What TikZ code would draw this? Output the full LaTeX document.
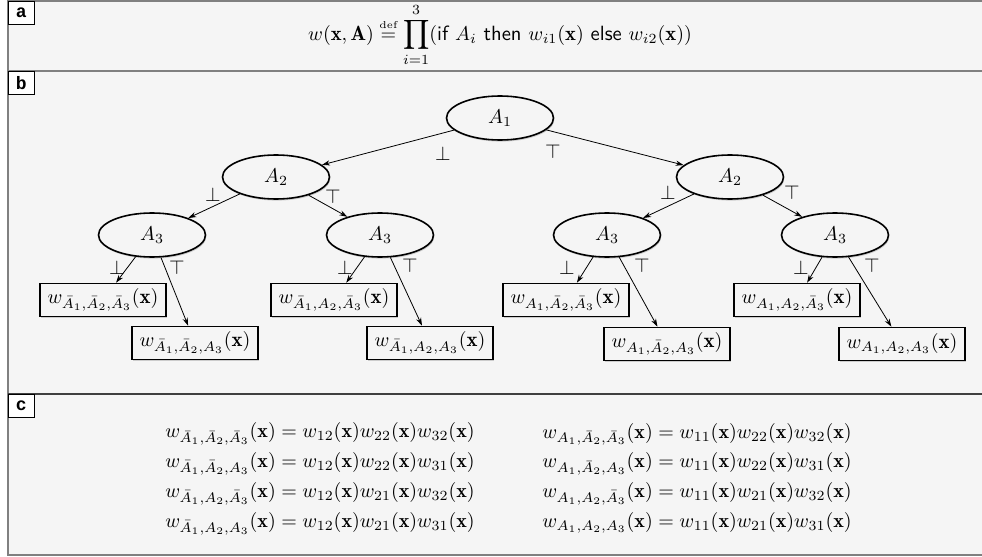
\documentclass[tikz,border=0pt]{standalone}
\usepackage{amsmath,amssymb}
\usepackage{fontspec}
\newfontfamily\tagfont{Liberation Mono}
\usepackage{tikz}
\usetikzlibrary{arrows.meta}
\usetikzlibrary{shapes.geometric}
\usetikzlibrary{shadows}
\definecolor{panelbg}{HTML}{F5F5F5}
\definecolor{framegray}{HTML}{808080}

\begin{document}
\begin{tikzpicture}[x=0.5pt, y=-0.5pt,
    dec/.style={draw, ellipse, thick, fill=panelbg, minimum width=53.5pt, minimum height=22pt, inner sep=0,
        drop shadow={shadow xshift=0.4pt, shadow yshift=-0.8pt, opacity=0.35}},
    leaf/.style={draw, thick, fill=panelbg, minimum width=63pt, minimum height=16.5pt, inner sep=2pt,
        font=\fontsize{10.4}{12}\selectfont,
        drop shadow={shadow xshift=0.4pt, shadow yshift=-0.6pt, opacity=0.35}},
    tag/.style={draw, fill=white, inner sep=0, minimum width=13pt, minimum height=11.5pt, anchor=north west, font=\tagfont\bfseries\small},
    lbl/.style={inner sep=0},
    arc/.style={-{Stealth[length=4pt, width=2.6pt]}, line width=0.4pt}]
    \useasboundingbox (0,0) rectangle (982,557);
    % panels
    \fill[panelbg] (8,1) rectangle (982,555);
    \draw[framegray, line width=1pt] (982,1) -- (8,1) -- (8,555) -- (982,555);
    \draw[framegray, line width=1pt] (8,71) -- (982,71);
    \draw[black!75, line width=0.8pt] (8,394) -- (982,394);
    \node[tag] (ta) at (8,1) {a};
    \node[tag] (tb) at (8,71) {b};
    \node[tag] (tc) at (8,394) {c};

    % a
    \node[font=\fontsize{10.3}{12}\selectfont] (wdef) at (500,35) {$\displaystyle w(\mathbf{x},\mathbf{A}) \overset{\text{\tiny def}}{=} \prod_{i=1}^{3}(\text{\sffamily if } A_i \text{ \sffamily then } w_{i1}(\mathbf{x}) \text{ \sffamily else } w_{i2}(\mathbf{x}))$};

    % b
    \node[dec] (a1) at (500,118) {$A_1$};
    \node[dec] (a2l) at (276,177) {$A_2$};
    \node[dec] (a2r) at (730,177) {$A_2$};
    \node[dec] (a3ll) at (152,235) {$A_3$};
    \node[dec] (a3lr) at (380,235) {$A_3$};
    \node[dec] (a3rl) at (607,235) {$A_3$};
    \node[dec] (a3rr) at (835,235) {$A_3$};

    \node[leaf] (w1) at (103,300) {$w_{\bar{A}_1,\bar{A}_2,\bar{A}_3}(\mathbf{x})$};
    \node[leaf] (w2) at (195,343) {$w_{\bar{A}_1,\bar{A}_2,A_3}(\mathbf{x})$};
    \node[leaf] (w3) at (334,300) {$w_{\bar{A}_1,A_2,\bar{A}_3}(\mathbf{x})$};
    \node[leaf] (w4) at (430,343) {$w_{\bar{A}_1,A_2,A_3}(\mathbf{x})$};
    \node[leaf] (w5) at (566,300) {$w_{A_1,\bar{A}_2,\bar{A}_3}(\mathbf{x})$};
    \node[leaf] (w6) at (667,344) {$w_{A_1,\bar{A}_2,A_3}(\mathbf{x})$};
    \node[leaf] (w7) at (797,300) {$w_{A_1,A_2,\bar{A}_3}(\mathbf{x})$};
    \node[leaf] (w8) at (902,344) {$w_{A_1,A_2,A_3}(\mathbf{x})$};

    \draw[arc] (a1) -- (a2l);
    \draw[arc] (a1) -- (a2r);
    \draw[arc] (a2l) -- (a3ll);
    \draw[arc] (a2l) -- (a3lr);
    \draw[arc] (a2r) -- (a3rl);
    \draw[arc] (a2r) -- (a3rr);
    \draw[arc] (a3ll) -- (w1);
    \draw[arc] (a3ll) -- (w2);
    \draw[arc] (a3lr) -- (w3);
    \draw[arc] (a3lr) -- (w4);
    \draw[arc] (a3rl) -- (w5);
    \draw[arc] (a3rl) -- (w6);
    \draw[arc] (a3rr) -- (w7);
    \draw[arc] (a3rr) -- (w8);

    \node[lbl] (f1) at (443,154) {$\bot$};
    \node[lbl] (t1) at (553,152) {$\top$};
    \node[lbl] (f2) at (213,195) {$\bot$};
    \node[lbl] (t2) at (333,197) {$\top$};
    \node[lbl] (f3) at (668,193) {$\bot$};
    \node[lbl] (t3) at (792,193) {$\top$};
    \node[lbl] (f4) at (117,268) {$\bot$};
    \node[lbl] (t4) at (177,268) {$\top$};
    \node[lbl] (f5) at (345,268) {$\bot$};
    \node[lbl] (t5) at (410,266) {$\top$};
    \node[lbl] (f6) at (567,268) {$\bot$};
    \node[lbl] (t6) at (642,266) {$\top$};
    \node[lbl] (f7) at (801,268) {$\bot$};
    \node[lbl] (t7) at (872,266) {$\top$};

    % c
    \node (eqleft) at (320,478) {$\begin{aligned}
        w_{\bar{A}_1,\bar{A}_2,\bar{A}_3}(\mathbf{x}) &= w_{12}(\mathbf{x})w_{22}(\mathbf{x})w_{32}(\mathbf{x})\\[-1.2pt]
        w_{\bar{A}_1,\bar{A}_2,A_3}(\mathbf{x}) &= w_{12}(\mathbf{x})w_{22}(\mathbf{x})w_{31}(\mathbf{x})\\[-1.2pt]
        w_{\bar{A}_1,A_2,\bar{A}_3}(\mathbf{x}) &= w_{12}(\mathbf{x})w_{21}(\mathbf{x})w_{32}(\mathbf{x})\\[-1.2pt]
        w_{\bar{A}_1,A_2,A_3}(\mathbf{x}) &= w_{12}(\mathbf{x})w_{21}(\mathbf{x})w_{31}(\mathbf{x})
    \end{aligned}$};
    \node (eqright) at (697,478) {$\begin{aligned}
        w_{A_1,\bar{A}_2,\bar{A}_3}(\mathbf{x}) &= w_{11}(\mathbf{x})w_{22}(\mathbf{x})w_{32}(\mathbf{x})\\[-1.2pt]
        w_{A_1,\bar{A}_2,A_3}(\mathbf{x}) &= w_{11}(\mathbf{x})w_{22}(\mathbf{x})w_{31}(\mathbf{x})\\[-1.2pt]
        w_{A_1,A_2,\bar{A}_3}(\mathbf{x}) &= w_{11}(\mathbf{x})w_{21}(\mathbf{x})w_{32}(\mathbf{x})\\[-1.2pt]
        w_{A_1,A_2,A_3}(\mathbf{x}) &= w_{11}(\mathbf{x})w_{21}(\mathbf{x})w_{31}(\mathbf{x})
    \end{aligned}$};
\end{tikzpicture}
\end{document}
